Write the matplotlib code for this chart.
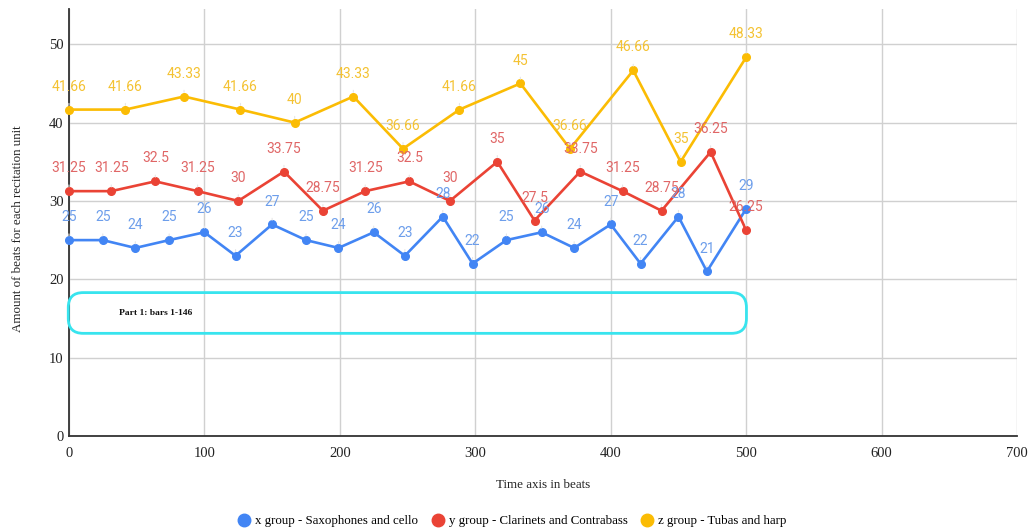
import numpy as np
import matplotlib
matplotlib.use("Agg")
import matplotlib.pyplot as plt
from matplotlib.patches import FancyBboxPatch
from matplotlib.lines import Line2D

plt.rcParams['font.family'] = ['Liberation Serif', 'DejaVu Serif']

# beats per recitation unit for each group
x_vals = [25, 25, 24, 25, 26, 23, 27, 25, 24, 26, 23, 28, 22, 25, 26, 24, 27, 22, 28, 21, 29]
y_vals = [31.25, 31.25, 32.5, 31.25, 30, 33.75, 28.75, 31.25, 32.5, 30, 35, 27.5,
          33.75, 31.25, 28.75, 36.25, 26.25]
z_vals = [41.66, 41.66, 43.33, 41.66, 40, 43.33, 36.66, 41.66, 45, 36.66, 46.66, 35, 48.33]

series = [
    ("x group - Saxophones and cello", x_vals, "#4285f4", "#6d9eeb"),
    ("y group - Clarinets and Contrabass", y_vals, "#ea4335", "#e06666"),
    ("z group - Tubas and harp", z_vals, "#fbbc04", "#f4c232"),
]

fig = plt.figure(figsize=(10.29, 5.32), dpi=100)
ax = fig.add_axes([0.067, 0.1805, 0.9214, 0.8026])

handles = []
for name, vals, col, lab_col in series:
    # each unit sits on the time axis where the units before it have ended
    t = np.cumsum(vals) - vals[0]
    ax.plot(t, vals, color=col, lw=1.9, marker='o', ms=5.5, zorder=3, clip_on=False)
    for tx, v in zip(t, vals):
        ax.annotate(f"{v:g}", xy=(tx, v), xytext=(0, 16.5), textcoords='offset points',
                    ha='center', va='center', color=lab_col, fontsize=10,
                    family=['Roboto', 'DejaVu Sans'], zorder=4,
                    arrowprops=dict(arrowstyle='-', color='#e6e6e6', lw=0.8,
                                    shrinkA=5, shrinkB=3))
    handles.append(Line2D([], [], color=col, marker='o', ls='none', ms=9, label=name))

ax.set_xlim(0, 700)
ax.set_ylim(0, 54.5)
ax.set_xticks(range(0, 701, 100))
ax.set_yticks(range(0, 51, 10))
ax.grid(True, color='#d0d0d0', lw=1.0)
ax.set_axisbelow(True)
for s in ['top', 'right']:
    ax.spines[s].set_visible(False)
for s in ['left', 'bottom']:
    ax.spines[s].set_color('#333333')
    ax.spines[s].set_linewidth(1.3)
ax.tick_params(axis='both', length=0, labelsize=10.5, colors='#222222')
ax.tick_params(axis='x', pad=8)
ax.tick_params(axis='y', pad=4)

ax.set_ylabel("Amount of beats for each recitation unit", fontsize=9.4, color='#222222')
ax.yaxis.set_label_coords(-0.0475, 0.485)
ax.set_xlabel("Time axis in beats", fontsize=9.4, color='#222222')
ax.xaxis.set_label_coords(0.5, -0.101)

# rounded cyan box marking part 1
aspect = (948 / 700) / (427 / 54.5)
box = FancyBboxPatch((-0.5, 13.1), 500.7, 5.2,
                     boxstyle="round,pad=0,rounding_size=11",
                     mutation_aspect=aspect, fill=False, ec='#38e4ee', lw=2,
                     clip_on=False, zorder=5)
ax.add_patch(box)
ax.text(37, 15.7, "Part 1: bars 1-146", fontsize=6.8, fontweight='bold',
        ha='left', va='center', color='#111111', zorder=6)

fig.legend(handles=handles, loc='center', bbox_to_anchor=(0.497, 0.02), ncol=3,
           frameon=False, fontsize=9.3, handletextpad=0.25, columnspacing=0.9,
           handlelength=1.2)

fig.savefig("out.png", dpi=100)
